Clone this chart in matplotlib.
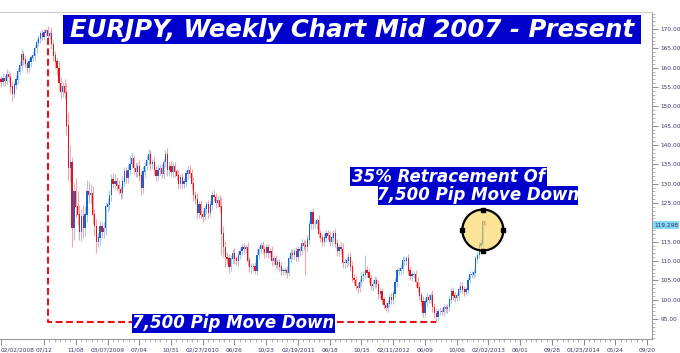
import numpy as np
import pandas as pd
import matplotlib
matplotlib.use("Agg")
import matplotlib.pyplot as plt
import matplotlib.dates as mdates
from matplotlib.patches import Ellipse, Rectangle

# weekly EURJPY candles, first close is the close of the week before the chart
first_week = "2008-01-26"
closes = [158.0,
    157.0, 156.2, 157.3, 156.5,  158.3, 157.5, 155.0, 153.3,
    155.5, 156.8, 159.0, 160.5,  163.5, 162.0, 161.0, 159.8,
    161.5, 162.5, 163.0, 165.0,  166.5, 167.5, 168.8, 168.0,
    169.0, 169.5, 168.2, 168.8,  166.0, 163.0, 161.5, 159.8,
    156.0, 153.8, 155.0, 153.5,  145.0, 134.0, 135.5, 118.5,
    128.0, 124.0, 122.0, 117.5,  121.5, 118.5, 122.0, 128.0,
    127.0, 127.5, 122.0, 119.0,  115.0, 116.0, 118.8, 117.5,
    118.5, 124.0, 124.5, 127.0,  131.0, 130.0, 130.5, 129.5,
    128.5, 127.5, 130.5, 133.0,  131.5, 133.5, 135.0, 136.5,
    134.0, 133.0, 134.5, 132.0,  129.0, 133.0, 134.5, 136.0,
    137.5, 135.0, 135.5, 133.5,  132.0, 133.5, 134.0, 132.5,
    135.5, 137.5, 133.5, 134.5,  133.0, 134.5, 133.0, 132.0,
    130.0, 131.5, 130.0, 130.5,  132.5, 133.5, 132.5, 130.0,
    127.0, 126.0, 122.5, 124.5,  122.0, 121.5, 123.5, 124.5,
    122.5, 124.5, 127.0, 126.5,  125.0, 125.5, 124.0, 117.0,
    113.5, 111.0, 110.5, 108.5,  110.5, 112.0, 110.5, 110.0,
    111.5, 112.5, 113.5, 113.0,  113.5, 110.0, 108.5, 108.5,
    108.5, 107.5, 111.5, 113.0,  114.0, 113.0, 112.0, 113.5,
    112.0, 112.5, 110.0, 110.5,  109.0, 109.5, 108.5, 107.5,
    107.5, 107.5, 107.0, 110.5,  112.0, 111.5, 112.5, 111.0,
    113.0, 112.5, 114.5, 114.0,  113.5, 115.5, 119.5, 122.5,
    119.5, 119.5, 120.5, 117.0,  116.0, 115.0, 116.0, 117.0,
    116.5, 115.0, 116.0, 117.0,  114.5, 112.5, 113.5, 113.0,
    109.5, 109.5, 110.0, 111.0,  108.5, 105.5, 105.0, 103.5,
    103.0, 104.5, 106.0, 106.5,  107.5, 107.0, 105.5, 103.5,
    104.0, 105.0, 104.0, 101.5,  102.0, 100.0, 98.5, 97.8,
    99.0, 100.5, 100.0, 101.5,  104.5, 107.5, 107.5, 108.0,
    110.0, 110.0, 110.5, 107.5,  106.0, 106.5, 106.5, 104.5,
    103.0, 101.0, 99.5, 96.5,  99.5, 100.5, 100.0, 101.0,
    98.0, 96.5, 95.5, 97.0,  97.0, 96.8, 98.0, 97.5,
    98.0, 100.0, 102.0, 101.0,  100.5, 101.0, 102.5, 103.5,
    102.5, 102.0, 102.5, 105.0,  106.5, 106.5, 107.0, 110.5,
    111.5, 114.0, 114.5, 120.2,  119.3]

# wick lengths above / below the candle bodies
up_wick = [
    1.2, 0.9, 1.4, 0.8,  1.3, 0.8, 1.1, 1.6,  0.9, 1.3, 1.0, 1.2,  1.4, 0.9, 1.2, 0.8,
    1.1, 0.7, 1.0, 0.9,  0.8, 1.0, 0.7, 1.2,  0.9, 0.6, 1.3, 0.8,  1.6, 1.2, 1.4, 1.1,
    1.8, 1.5, 1.3, 2.0,  2.5, 3.5, 4.5, 1.5,  2.2, 3.5, 4.0, 2.5,  2.0, 3.0, 2.2, 3.0,
    2.5, 2.5, 1.8, 1.5,  1.8, 1.2, 1.6, 1.4,  1.5, 1.2, 1.8, 1.3,  1.5, 1.8, 2.0, 1.2,
    1.4, 1.0, 1.6, 1.3,  1.2, 1.6, 2.5, 1.8,  1.0, 1.4, 1.2, 1.5,  1.2, 1.6, 1.0, 1.3,
    1.5, 1.2, 1.0, 1.4,  1.1, 1.3, 1.0, 1.2,  1.0, 1.2, 1.6, 1.1,  1.3, 1.0, 1.2, 0.9,
    1.5, 1.0, 1.2, 1.0,  1.1, 1.0, 1.3, 1.4,  1.6, 1.2, 1.5, 1.0,  1.3, 1.1, 1.0, 0.9,
    1.2, 1.0, 1.1, 1.3,  1.0, 1.2, 1.5, 2.5,  2.0, 1.8, 1.4, 1.2,  1.0, 1.2, 1.3, 0.9,
    1.0, 0.8, 1.1, 1.2,  1.0, 1.4, 1.0, 0.9,  1.0, 1.2, 1.5, 1.0,  0.9, 1.1, 1.0, 0.8,
    1.0, 0.9, 1.3, 1.0,  1.1, 0.9, 1.0, 1.2,  0.8, 1.0, 1.2, 0.9,  1.1, 1.0, 0.9, 1.2,
    0.8, 1.0, 1.3, 1.0,  1.5, 1.2, 0.9, 0.8,  1.2, 1.0, 0.7, 1.4,  1.1, 1.0, 1.2, 0.9,
    1.0, 1.3, 0.9, 1.1,  1.4, 1.2, 1.0, 1.3,  1.6, 1.2, 1.0, 1.1,  1.3, 1.5, 1.2, 1.0,
    1.1, 0.9, 1.2, 1.0,  4.1, 1.3, 1.0, 1.2,  1.0, 1.2, 0.9, 1.1,  0.9, 1.0, 0.8, 0.9,
    0.8, 1.0, 1.1, 0.9,  1.0, 0.8, 1.0, 1.2,  1.4, 1.1, 0.9, 1.3,  1.2, 1.0, 0.9, 1.1,
    1.3, 1.2, 1.0, 1.4,  0.9, 1.1, 1.0, 0.8,  1.5, 1.2, 1.0, 0.8,  1.0, 0.9, 0.8, 1.0,
    0.9, 1.0, 1.2, 1.1,  1.0, 0.8, 0.9, 1.1,  1.2, 1.0, 0.8, 0.9,  1.0, 0.9, 1.0, 0.8,
    0.9, 1.0, 1.2, 0.4,  0.4]
dn_wick = [
    1.0, 1.3, 0.9, 1.2,  0.8, 1.2, 1.5, 2.0,  1.2, 0.9, 1.1, 0.8,  1.0, 1.3, 0.9, 1.1,
    1.0, 1.2, 0.8, 0.9,  1.1, 0.9, 1.0, 0.8,  0.8, 1.0, 1.2, 0.9,  1.2, 1.4, 1.6, 1.8,
    2.0, 1.6, 1.4, 1.5,  2.5, 3.0, 3.5, 5.0,  3.0, 2.5, 2.8, 2.0,  2.2, 2.5, 2.0, 1.8,
    2.0, 2.2, 2.5, 2.5,  3.0, 1.5, 1.8, 1.6,  1.5, 1.8, 1.3, 1.4,  1.6, 1.2, 1.4, 1.3,
    1.2, 1.5, 1.3, 1.1,  1.4, 1.2, 1.3, 1.0,  1.5, 1.2, 1.3, 1.4,  2.0, 1.3, 1.2, 1.0,
    1.2, 1.4, 1.1, 1.3,  1.4, 1.0, 1.2, 1.0,  1.3, 1.1, 1.5, 1.2,  1.0, 1.2, 1.3, 1.1,
    1.4, 1.0, 1.2, 1.1,  1.0, 1.2, 1.0, 1.3,  1.4, 1.2, 1.5, 1.3,  1.2, 1.4, 1.0, 1.1,
    1.3, 1.0, 1.2, 1.1,  1.2, 1.0, 1.3, 5.5,  2.5, 2.5, 1.4, 1.5,  1.2, 1.0, 1.3, 1.1,
    1.2, 1.0, 0.9, 1.1,  0.9, 1.3, 1.4, 1.6,  1.2, 0.8, 1.0, 1.1,  1.0, 0.9, 1.2, 1.0,
    1.1, 1.0, 1.2, 1.0,  0.9, 1.1, 1.0, 1.2,  1.0, 0.9, 1.5, 1.0,  1.0, 1.1, 0.9, 1.0,
    1.0, 1.2, 1.0, 1.1,  7.0, 1.2, 1.0, 1.1,  1.3, 1.0, 1.2, 1.1,  1.0, 1.2, 0.9, 1.1,
    1.1, 1.0, 1.2, 0.9,  1.0, 1.3, 1.1, 1.2,  1.4, 1.2, 1.0, 1.1,  1.2, 1.0, 1.1, 1.0,
    1.2, 1.0, 0.9, 1.1,  1.0, 1.2, 1.1, 1.0,  1.2, 1.0, 1.1, 1.3,  1.1, 1.2, 1.0, 0.8,
    1.0, 0.9, 1.1, 1.0,  0.9, 1.1, 1.0, 1.0,  1.2, 1.0, 1.1, 1.2,  1.0, 1.1, 1.0, 1.2,
    1.0, 1.2, 1.1, 1.0,  1.0, 1.1, 0.9, 1.0,  1.1, 1.2, 1.4, 0.9,  1.0, 0.8, 1.0, 0.9,
    0.9, 1.0, 0.8, 1.0,  1.0, 0.9, 1.0, 0.8,  0.9, 1.0, 0.8, 0.9,  0.8, 1.0, 0.9, 1.0,
    0.9, 0.8, 1.0, 0.5,  0.5]

tick_dates = ["2008-02-02", "2008-07-12", "2008-11-08", "2009-03-07", "2009-07-04",
              "2009-10-31", "2010-02-27", "2010-06-26", "2010-10-23", "2011-02-19",
              "2011-06-18", "2011-10-15", "2012-02-11", "2012-06-09", "2012-10-06",
              "2013-02-02", "2013-06-01", "2013-09-28", "2014-01-25", "2014-05-24",
              "2014-09-20"]
tick_labels = ["02/02/2008", "07/12", "11/08", "03/07/2009", "07/04", "10/31",
               "02/27/2010", "06/26", "10/23", "02/19/2011", "06/18", "10/15",
               "02/11/2012", "06/09", "10/06", "02/02/2013", "06/01", "09/28",
               "01/25/2014", "05/24", "09/20"]
y_ticks = [95, 100, 105, 110, 115, 120, 125, 130, 135, 140, 145, 150, 155, 160, 165, 170]
last_price = 119.298
dash_top = 167.7
circle_y = 118.0

W, H = 680, 353
blue_box = "#0000cc"
up_col, dn_col = "#1465d6", "#e8121a"
up_wick_col, dn_wick_col = "#a9c9ee", "#f5a5a5"

prices = np.array(closes)
opens = prices[:-1]
close = prices[1:]
highs = np.maximum(opens, close) + np.array(up_wick)
lows = np.minimum(opens, close) - np.array(dn_wick)
dates = pd.date_range(first_week, periods=len(close), freq="7D")
x = mdates.date2num(dates)
rising = close >= opens

fig = plt.figure(figsize=(W / 100, H / 100), dpi=100)
ax = fig.add_axes([0, 1 - 339 / H, 652 / W, 327 / H])

ax.vlines(x, lows, highs, colors=np.where(rising, up_wick_col, dn_wick_col), lw=0.8, zorder=1)
ax.bar(x, np.abs(close - opens) + 0.15, bottom=np.minimum(opens, close), width=4.6,
       color=np.where(rising, up_col, dn_col), linewidth=0, zorder=2)

# 7,500 pip move: from the 2008 top down to the 2012 low
i_top = int(np.argmax(highs))
i_low = int(np.argmin(lows))
ax.plot([x[i_top], x[i_top], x[i_low]], [dash_top, lows[i_low], lows[i_low]],
        color="#e8121a", lw=1.5, dashes=(3.3, 1.7), zorder=3)

# circle around the latest candles
cx = x[-2]
days_per_px = (mdates.date2num(pd.Timestamp("2014-10-08")) - mdates.date2num(pd.Timestamp("2008-01-29"))) / 652
ax.add_patch(Ellipse((cx, circle_y), 41 * days_per_px, 41 / 3.867,
                     facecolor=(0.98, 0.84, 0.38, 0.65), edgecolor="black", lw=1.6, zorder=4))
ax.plot([cx, cx, cx - 20.5 * days_per_px, cx + 20.5 * days_per_px],
        [circle_y + 20.5 / 3.867, circle_y - 20.5 / 3.867, circle_y, circle_y],
        "s", color="black", ms=3, zorder=5)

ax.set_xlim(pd.Timestamp("2008-01-29"), pd.Timestamp("2014-10-08"))
ax.set_ylim(89.83, 174.4)

ax.yaxis.tick_right()
ax.set_yticks(y_ticks)
# the 120.00 label sits under the last-price marker
ax.set_yticklabels(["" if v == 120 else f"{v:.2f}" for v in y_ticks])
ax.set_yticks(np.arange(90, 175, 1), minor=True)
tx = mdates.date2num(pd.to_datetime(tick_dates))
ax.set_xticks(tx)
ax.set_xticklabels(tick_labels)
minor_x = np.concatenate([np.linspace(tx[i], tx[i + 1], 7)[1:-1] for i in range(1, len(tx) - 1)])
ax.set_xticks(minor_x, minor=True)
ax.tick_params(axis="both", which="major", length=4, width=0.6, color="#777777",
               labelsize=4.2, labelcolor="#3a3a66", pad=2)
ax.tick_params(axis="both", which="minor", length=2, width=0.5, color="#999999")
for lab in ax.get_xticklabels()[:1]:
    lab.set_horizontalalignment("left")

ax.spines["left"].set_visible(False)
ax.spines["top"].set_color("#cccccc")
ax.spines["right"].set_color("#999999")
ax.spines["bottom"].set_color("#999999")
for s in ax.spines.values():
    s.set_linewidth(0.8)

ax.text(1.003, last_price, f"{last_price:.3f}", transform=ax.get_yaxis_transform(),
        fontsize=4.2, color="#333366", va="center", ha="left",
        bbox=dict(facecolor="#86d6f5", edgecolor="none", pad=0.8))


def px_box(x0, y0, x1, y1, text, size):
    fig.add_artist(Rectangle((x0 / W, 1 - y1 / H), (x1 - x0) / W, (y1 - y0) / H,
                             transform=fig.transFigure, facecolor=blue_box,
                             edgecolor="none", zorder=6))
    fig.text((x0 + x1) / 2 / W, 1 - (y0 + y1) / 2 / H, text, ha="center", va="center",
             fontsize=size, fontweight="bold", style="italic", color="white", zorder=7)


px_box(63, 15, 641, 44, "EURJPY, Weekly Chart Mid 2007 - Present", 17.6)
px_box(350, 167, 547, 186, "35% Retracement Of", 12)
px_box(378, 186, 578, 205, "7,500 Pip Move Down", 12)
px_box(132, 314, 335, 333, "7,500 Pip Move Down", 12)

fig.savefig("out.png", dpi=100)
